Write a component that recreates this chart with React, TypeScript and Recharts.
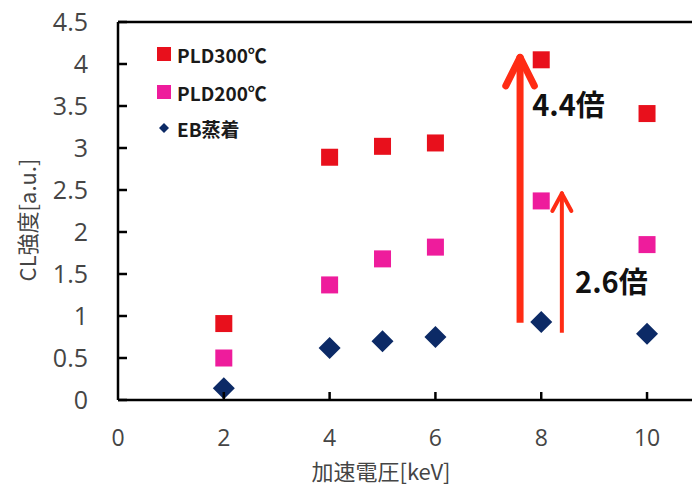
import React from 'react';
import {
  ScatterChart, Scatter, XAxis, YAxis, ReferenceLine, ReferenceDot,
} from 'recharts';

// 加速電圧 [keV]
const voltages = [2, 4, 5, 6, 8, 10];
// CL強度 [a.u.]
const pld300 = [0.91, 2.89, 3.02, 3.06, 4.05, 3.41];
const pld200 = [0.5, 1.37, 1.68, 1.82, 2.37, 1.85];
const ebVapor = [0.14, 0.62, 0.7, 0.75, 0.93, 0.79];

const xTicks = [0, 2, 4, 6, 8, 10];
const yTicks = [0, 0.5, 1, 1.5, 2, 2.5, 3, 3.5, 4, 4.5];

// ratio arrows (at 8 keV)
const arrowX = [7.6, 8.39];
const arrowFrom = [0.92, 0.8];
const arrowTo = [4.08, 2.46];
const ratioText = ['4.4倍', '2.6倍'];
const ratioX = [7.83, 8.64];
const ratioY = [3.51, 1.4];

const RED = '#e8101c';
const PINK = '#ee1c9c';
const NAVY = '#0c2a66';
const ARROW = '#ff2c14';
const FONT = '"Open Sans", "Noto Sans CJK JP", sans-serif';
const JP = '"Noto Sans CJK JP", sans-serif';

const toPoints = (ys: number[]) => voltages.map((v, i) => ({ x: v, y: ys[i] }));

const Square = (color: string) => (p: any) => (
  <rect x={p.cx - 8.5} y={p.cy - 8.5} width={17} height={17} fill={color} />
);
const Diamond = (p: any) => (
  <polygon
    points={`${p.cx},${p.cy - 11} ${p.cx + 11},${p.cy} ${p.cx},${p.cy + 11} ${p.cx - 11},${p.cy}`}
    fill={NAVY}
  />
);

const YTick = (p: any) => (
  <g>
    <line x1={p.x} x2={p.x + 9} y1={p.y} y2={p.y} stroke="#000" strokeWidth={2.5} />
    <text x={p.x - 30} y={p.y} dy="0.36em" textAnchor="end" fontSize={25} fill="#454545" fontFamily={FONT}>
      {p.payload.value}
    </text>
  </g>
);

const XTick = (p: any) => (
  <g>
    {p.payload.value !== 0 && (
      <line x1={p.x} x2={p.x} y1={p.y} y2={p.y - 8} stroke="#000" strokeWidth={2.5} />
    )}
    <text x={p.x} y={p.y + 38} dy="0.36em" textAnchor="middle" fontSize={23} fill="#454545" fontFamily={FONT}>
      {p.payload.value}
    </text>
  </g>
);

const YTitle = () => (
  <text
    x={28} y={220} transform="rotate(-90 28 220)" dy="0.36em" textAnchor="middle"
    fontSize={22} fill="#454545" fontFamily={JP}
  >
    CL強度[a.u.]
  </text>
);

const XTitle = () => (
  <text x={381} y={472} dy="0.36em" textAnchor="middle" fontSize={22} fill="#454545" fontFamily={JP}>
    加速電圧[keV]
  </text>
);

const legendItems = [
  { name: 'PLD300℃', color: RED, shape: 'square' },
  { name: 'PLD200℃', color: PINK, shape: 'square' },
  { name: 'EB蒸着', color: NAVY, shape: 'diamond' },
];

const LegendBox = () => (
  <div
    style={{
      position: 'absolute', left: 154, top: 34,
      fontFamily: JP, fontWeight: 700, fontSize: 19, color: '#1a1a1a', lineHeight: 1,
    }}
  >
    {legendItems.map((it, i) => (
      <div key={it.name} style={{ display: 'flex', alignItems: 'center', height: i === 0 ? 40 : 36 }}>
        <svg width={20} height={20} style={{ marginRight: 3 }}>
          {it.shape === 'square' ? (
            <rect x={3} y={3} width={14} height={14} fill={it.color} />
          ) : (
            <polygon points="10,5 15,10 10,15 5,10" fill={it.color} />
          )}
        </svg>
        <span>{it.name}</span>
      </div>
    ))}
  </div>
);

const RatioLabel = (text: string) => (p: any) => (
  <text x={p.cx} y={p.cy} dy="0.36em" fontSize={29} fontWeight={700} fill="#111" fontFamily={JP}>
    {text}
  </text>
);

export default function App() {
  return (
    <div style={{ position: 'absolute', left: 0, top: 0, width: 692, height: 488, background: '#fff' }}>
      <ScatterChart width={692} height={488} margin={{ top: 22, right: 0, bottom: 0, left: 0 }}>
        <XAxis
          type="number"
          dataKey="x"
          domain={[0, 10.85]}
          ticks={xTicks}
          allowDataOverflow
          height={88}
          tickSize={0}
          tickMargin={0}
          tickLine={false}
          tick={XTick}
          axisLine={{ stroke: '#000', strokeWidth: 2.5 }}
          label={XTitle}
        />
        <YAxis
          type="number"
          dataKey="y"
          domain={[0, 4.5]}
          ticks={yTicks}
          width={118}
          tickSize={0}
          tickMargin={0}
          tickLine={false}
          tick={YTick}
          axisLine={{ stroke: '#000', strokeWidth: 2.5 }}
          label={YTitle}
        />
        <ReferenceLine y={4.5} stroke="#000" strokeWidth={2.5} />
        <Scatter name="PLD300℃" data={toPoints(pld300)} shape={Square(RED)} isAnimationActive={false} />
        <Scatter name="PLD200℃" data={toPoints(pld200)} shape={Square(PINK)} isAnimationActive={false} />
        <Scatter name="EB蒸着" data={toPoints(ebVapor)} shape={Diamond} isAnimationActive={false} />
        {arrowX.map((x, i) => {
          const w = i === 0 ? 7 : 4;
          const hw = i === 0 ? 0.27 : 0.18;
          const hl = i === 0 ? 0.34 : 0.21;
          return (
            <React.Fragment key={`arrow-${i}`}>
              <ReferenceLine segment={[{ x, y: arrowFrom[i] }, { x, y: arrowTo[i] - 0.03 }]} stroke={ARROW} strokeWidth={w} />
              <ReferenceLine segment={[{ x: x - hw, y: arrowTo[i] - hl }, { x, y: arrowTo[i] }]} stroke={ARROW} strokeWidth={w} strokeLinecap="round" />
              <ReferenceLine segment={[{ x: x + hw, y: arrowTo[i] - hl }, { x, y: arrowTo[i] }]} stroke={ARROW} strokeWidth={w} strokeLinecap="round" />
            </React.Fragment>
          );
        })}
        {ratioText.map((t, i) => (
          <ReferenceDot key={t} x={ratioX[i]} y={ratioY[i]} r={0} shape={RatioLabel(t)} />
        ))}
      </ScatterChart>
      <LegendBox />
    </div>
  );
}
